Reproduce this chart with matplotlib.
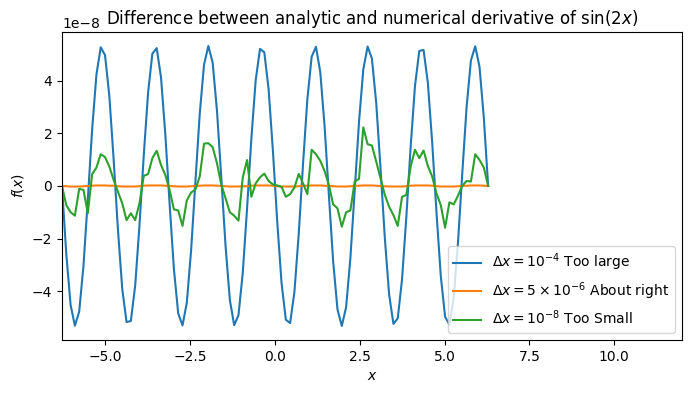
import numpy as np
import matplotlib
matplotlib.use("Agg")
import matplotlib.pyplot as plt

# sample points
x = np.linspace(-2 * np.pi, 2 * np.pi, 100)

# differences, in units of 1e-8
err_large = [
    0.00, -2.59, -4.53, -5.32, -4.78, -3.02, -0.51, 2.14, 4.24, 5.28,
    4.98, 3.43, 1.01, -1.66, -3.92, -5.18, -5.14, -3.80, -1.50, 1.17,
    3.55, 5.04, 5.25, 4.14, 1.98, -0.67, -3.16, -4.85, -5.31, -4.44,
    -2.44, 0.17, 2.74, 4.62, 5.33, 4.70, 2.88, 0.34, -2.29, -4.34,
    -5.30, -4.92, -3.30, -0.84, 1.82, 4.03, 5.22, 5.09, 3.68, 1.34,
    -1.34, -3.68, -5.09, -5.22, -4.03, -1.82, 0.84, 3.30, 4.92, 5.30,
    4.34, 2.29, -0.34, -2.88, -4.70, -5.33, -4.62, -2.74, -0.17, 2.44,
    4.44, 5.31, 4.85, 3.16, 0.67, -1.98, -4.14, -5.25, -5.04, -3.55,
    -1.17, 1.50, 3.80, 5.14, 5.18, 3.92, 1.66, -1.01, -3.43, -4.98,
    -5.28, -4.24, -2.14, 0.51, 3.02, 4.78, 5.32, 4.53, 2.59, 0.00,
]

err_right = [
    0.00, -0.01, -0.02, -0.02, -0.02, -0.01, 0.00, 0.01, 0.02, 0.02,
    0.02, 0.01, 0.01, -0.01, -0.02, -0.02, -0.02, -0.02, -0.01, 0.01,
    0.02, 0.02, 0.02, 0.02, 0.01, 0.00, -0.01, -0.02, -0.02, -0.02,
    -0.01, 0.00, 0.01, 0.02, 0.02, 0.02, 0.01, 0.00, -0.01, -0.02,
    -0.02, -0.02, -0.01, -0.01, 0.01, 0.02, 0.02, 0.02, 0.02, 0.01,
    -0.01, -0.02, -0.02, -0.02, -0.02, -0.01, 0.01, 0.01, 0.02, 0.02,
    0.02, 0.01, 0.00, -0.01, -0.02, -0.02, -0.02, -0.01, 0.00, 0.01,
    0.02, 0.02, 0.02, 0.01, 0.00, -0.01, -0.02, -0.02, -0.02, -0.02,
    -0.01, 0.01, 0.02, 0.02, 0.02, 0.02, 0.01, -0.01, -0.02, -0.02,
    -0.02, -0.02, -0.01, 0.00, 0.01, 0.02, 0.02, 0.02, 0.01, 0.00,
]

err_small = [
    0.00, -0.73, -1.00, -1.13, -0.11, -0.15, -1.04, 0.45, 0.70, 1.21,
    1.10, 0.74, 0.23, -0.22, -0.66, -1.30, -1.04, -1.30, -0.66, 0.39,
    0.45, 1.06, 1.34, 0.80, 0.42, -0.15, -0.89, -0.93, -1.52, -0.55,
    -0.25, -0.13, 0.36, 1.61, 1.63, 1.48, 0.87, 0.06, -0.47, -1.00,
    -1.13, -1.32, 0.33, 0.99, -0.41, 0.10, 0.33, 0.47, 0.19, 0.06,
    0.02, -0.03, -0.41, -0.31, -0.06, 0.46, 0.10, -0.31, 1.38, 1.21,
    0.96, 0.57, 0.04, -0.70, -0.85, -1.55, -1.00, -0.93, 0.17, 0.27,
    2.23, 1.59, 1.54, 0.93, 0.29, -0.34, -0.79, -1.11, -1.52, -0.41,
    -0.34, 0.74, 1.38, 1.06, 1.35, 0.76, 0.36, -0.28, -0.73, -1.59,
    -0.62, -0.70, -0.37, 0.01, 0.19, 0.17, 1.21, 0.99, 0.70, 0.00,
]

labels = [
    r"$\Delta x = 10^{-4}$ Too large",
    r"$\Delta x = 5\times10^{-6}$ About right",
    r"$\Delta x = 10^{-8}$ Too Small",
]

fig = plt.figure(figsize=(6.91, 3.93), dpi=100)
ax = fig.add_axes([0.0897, 0.1349, 0.8973, 0.7837])

for ys, lab in zip([err_large, err_right, err_small], labels):
    ax.plot(x, np.array(ys) * 1e-8, label=lab)

ax.set_xlim(-2 * np.pi, 12)
ax.set_title(r"Difference between analytic and numerical derivative of $\sin(2x)$")
ax.set_xlabel(r"$x$")
ax.set_ylabel(r"$f(x)$")
ax.legend(loc="lower right")

fig.savefig("out.png", dpi=100)
